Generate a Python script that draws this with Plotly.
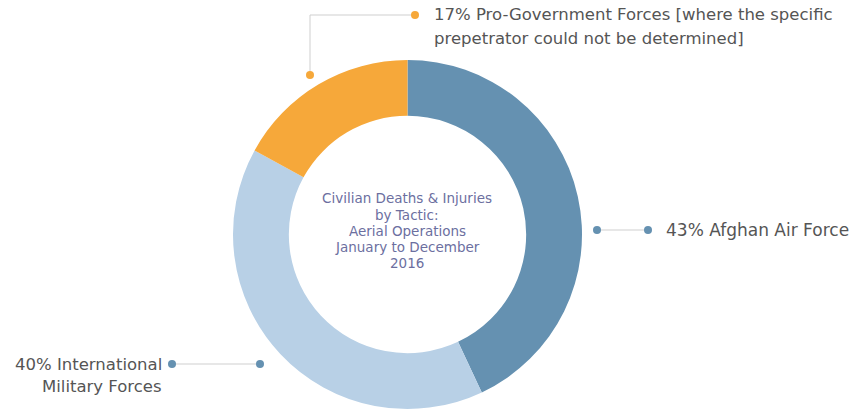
import plotly.graph_objects as go

labels = ["Afghan Air Force", "International Military Forces",
          "Pro-Government Forces [where the specific prepetrator could not be determined]"]
values = [43, 40, 17]
colors = ["#6591b1", "#b8d0e6", "#f6a83a"]
center_lines = ["Civilian Deaths & Injuries", "by Tactic:", "Aerial Operations",
                "January to December", "2016"]
afghan_lines = [f"{values[0]}% Afghan Air Force"]
intl_lines = [f"{values[1]}% International", "Military Forces"]
progov_lines = [f"{values[2]}% Pro-Government Forces [where the specific",
                "prepetrator could not be determined]"]

W, H = 851, 413
FONT = "DejaVu Sans"
TXT = "#555555"
LINE = "#cfcfcf"


def px(x):
    return x / W


def py(y):
    return 1 - y / H


fig = go.Figure()
fig.add_trace(go.Pie(
    labels=labels, values=values, sort=False, direction="clockwise", rotation=0,
    hole=0.68, marker=dict(colors=colors, line=dict(width=0)),
    textinfo="none", hoverinfo="label+percent", showlegend=False,
    domain=dict(x=[px(233), px(582)], y=[py(409), py(60)]),
))

shapes = []


def seg(x0, y0, x1, y1):
    shapes.append(dict(type="line", xref="paper", yref="paper",
                       x0=px(x0), y0=py(y0), x1=px(x1), y1=py(y1),
                       line=dict(color=LINE, width=1)))


def dot(x, y, c, r=4):
    shapes.append(dict(type="circle", xref="paper", yref="paper",
                       x0=px(x - r), x1=px(x + r), y0=py(y + r), y1=py(y - r),
                       fillcolor=c, line=dict(width=0)))


# Afghan Air Force leader
seg(597, 230, 648, 230)
dot(597, 230, colors[0])
dot(648, 230, colors[0])
# International leader
seg(172, 364, 260, 364)
dot(172, 364, colors[0])
dot(260, 364, colors[0])
# Pro-Government leader
seg(310, 75, 310, 15)
seg(310, 15, 415, 15)
dot(310, 75, colors[2])
dot(415, 15, colors[2])

annotations = []


def label(text, x, y, size, anchor, color=TXT):
    annotations.append(dict(text=text, x=px(x), y=py(y), xref="paper", yref="paper",
                            showarrow=False, font=dict(family=FONT, size=size, color=color),
                            xanchor=anchor, yanchor="middle"))


for t, y in zip(center_lines, [198, 215, 231, 247, 263]):
    label(t, 407, y, 13.5, "center", "#6c6f9f")
label(afghan_lines[0], 664, 230, 17, "left")
for t, y in zip(intl_lines, [364, 386]):
    label(t, 164, y, 16.5, "right")
for t, y in zip(progov_lines, [14, 39]):
    label(t, 432, y, 16.5, "left")

fig.update_layout(
    width=W, height=H, margin=dict(l=0, r=0, t=0, b=0),
    paper_bgcolor="white", plot_bgcolor="white",
    shapes=shapes, annotations=annotations,
)

fig.write_html("out.html", config={"displayModeBar": False},
               post_script="document.body.style.margin='0';")
